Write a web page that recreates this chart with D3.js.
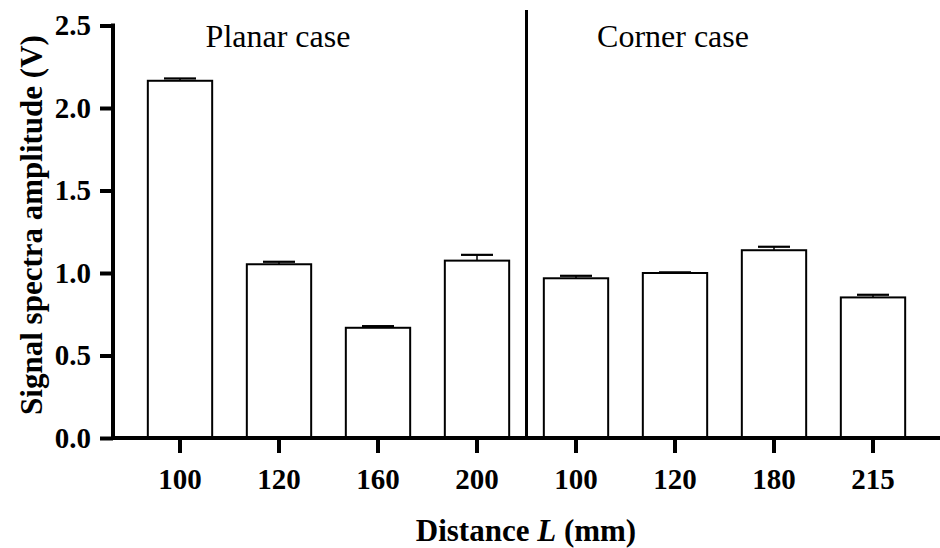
<!DOCTYPE html>
<html>
<head>
<meta charset="utf-8">
<script src="https://cdnjs.cloudflare.com/ajax/libs/d3/7.8.5/d3.min.js"></script>
<style>
	body { margin: 0; background: #fff; }
</style>
</head>
<body>
<div id="chart"></div>
<script>
// data
let groups		= ["Planar case", "Corner case"];
let distances	= ["100", "120", "160", "200", "100", "120", "180", "215"];
let caseOf		= [0, 0, 0, 0, 1, 1, 1, 1];
let amplitude	= [2.165, 1.053, 0.668, 1.075, 0.968, 1.000, 1.138, 0.852];
let errors		= [0.014, 0.015, 0.010, 0.035, 0.015, 0.004, 0.021, 0.016];
let yTicks		= [0, 0.5, 1.0, 1.5, 2.0, 2.5];

let serif = "Liberation Serif, Times New Roman, Tinos, DejaVu Serif, serif";

let keys = distances.map((d, i) => groups[caseOf[i]] + "-" + d);

let canvasWidth		= 940;
let canvasHeight	= 548;

let svg = d3.select("#chart").append("svg")
	.attr("width", canvasWidth)
	.attr("height", canvasHeight)
	.attr("font-family", serif);

let x = d3.scaleBand()
	.domain(keys)
	.range([130.5, 922.5])
	.paddingInner(0.35)
	.paddingOuter(0.175);

let y = d3.scaleLinear()
	.domain([0, 2.5])
	.range([438, 25.5]);

// bars
svg.selectAll("rect.bar")
	.data(amplitude)
	.enter().append("rect")
		.attr("class", "bar")
		.attr("x", (d, i) => x(keys[i]))
		.attr("y", (d) => y(d))
		.attr("width", x.bandwidth())
		.attr("height", (d) => y(0) - y(d))
		.attr("fill", "#fff")
		.attr("stroke", "#000")
		.attr("stroke-width", 2);

// error bars (upper only)
let err = svg.selectAll("g.err")
	.data(amplitude)
	.enter().append("g")
		.attr("class", "err")
		.attr("transform", (d, i) => "translate(" + (x(keys[i]) + x.bandwidth() / 2) + ",0)");

err.append("line")
	.attr("y1", (d) => y(d))
	.attr("y2", (d, i) => y(d + errors[i]))
	.attr("stroke", "#000")
	.attr("stroke-width", 1.5);

err.append("line")
	.attr("x1", -16)
	.attr("x2", 16)
	.attr("y1", (d, i) => y(d + errors[i]))
	.attr("y2", (d, i) => y(d + errors[i]))
	.attr("stroke", "#000")
	.attr("stroke-width", 2.2);

// divider between the two cases
let midX = (x(keys[3]) + x(keys[4]) + x.bandwidth()) / 2;
svg.append("line")
	.attr("x1", midX).attr("x2", midX)
	.attr("y1", 10).attr("y2", y(0))
	.attr("stroke", "#000")
	.attr("stroke-width", 3);

// y axis
let yAxis = svg.append("g")
	.attr("transform", "translate(113,0)")
	.call(d3.axisLeft(y).tickValues(yTicks).tickFormat(d3.format(".1f")).tickSize(13).tickPadding(9))
	.attr("font-family", serif)
	.attr("font-size", 29)
	.attr("font-weight", "bold");

yAxis.select(".domain").attr("stroke-width", 4).attr("d", "M0," + (y(2.5) - 2) + "V" + (y(0) + 2));
yAxis.selectAll(".tick line").attr("stroke-width", 4);

// x axis
let xAxis = svg.append("g")
	.attr("transform", "translate(0," + y(0) + ")")
	.call(d3.axisBottom(x).tickFormat((d, i) => distances[i]).tickSize(15).tickPadding(15))
	.attr("font-family", serif)
	.attr("font-size", 29)
	.attr("font-weight", "bold");

xAxis.select(".domain").attr("stroke-width", 4).attr("d", "M111,0H940");
xAxis.selectAll(".tick line").attr("stroke-width", 4);

// group labels
svg.selectAll("text.group")
	.data(groups)
	.enter().append("text")
		.attr("class", "group")
		.attr("x", (d, i) => i === 0 ? 278 : 673)
		.attr("y", 47)
		.attr("text-anchor", "middle")
		.attr("font-size", 32)
		.text((d) => d);

// axis titles
svg.append("text")
	.attr("transform", "translate(42,225) rotate(-90)")
	.attr("text-anchor", "middle")
	.attr("font-size", 31)
	.attr("font-weight", "bold")
	.text("Signal spectra amplitude (V)");

let xt = svg.append("text")
	.attr("x", 526)
	.attr("y", 541)
	.attr("text-anchor", "middle")
	.attr("font-size", 31)
	.attr("font-weight", "bold");
xt.append("tspan").text("Distance ");
xt.append("tspan").attr("font-style", "italic").text("L");
xt.append("tspan").text(" (mm)");
</script>
</body>
</html>
